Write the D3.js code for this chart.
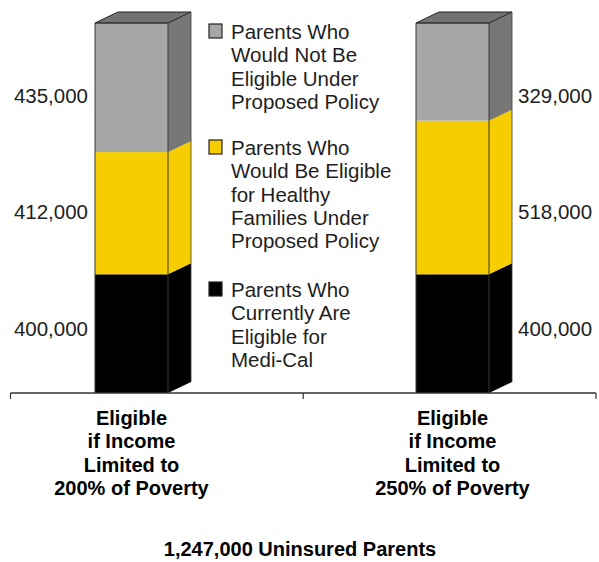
<!DOCTYPE html>
<html>
<head>
<meta charset="utf-8">
<script src="https://cdn.jsdelivr.net/npm/d3@7"></script>
<style>
  html, body { margin: 0; padding: 0; background: #fff; }
  svg { display: block; }
  text { font-family: "Liberation Sans", Arial, Helvetica, sans-serif; }
</style>
</head>
<body>
<svg id="chart" width="599" height="562"></svg>
<script>
// Uninsured parents by eligibility, for two income limits
const categories = ["200%", "250%"];
const categoryLabels = [
  ["Eligible", "if Income", "Limited to", "200% of Poverty"],
  ["Eligible", "if Income", "Limited to", "250% of Poverty"]
];
const seriesNames = ["Medi-Cal", "Healthy Families", "Not Eligible"];
const mediCal = [400000, 400000];
const healthyFamilies = [412000, 518000];
const notEligible = [435000, 329000];
const legendLabels = [
  ["Parents Who", "Would Not Be", "Eligible Under", "Proposed Policy"],
  ["Parents Who", "Would Be Eligible", "for Healthy", "Families Under", "Proposed Policy"],
  ["Parents Who", "Currently Are", "Eligible for", "Medi-Cal"]
];
const totalLabel = "1,247,000 Uninsured Parents";

const fmt = d3.format(",");

// colours per layer: front, side, top
const palette = {
  "Medi-Cal":        { front: "#000000", side: "#000000", top: "#000000" },
  "Healthy Families":{ front: "#f5cd00", side: "#f5cd00", top: "#f5cd00" },
  "Not Eligible":    { front: "#a6a6a6", side: "#777777", top: "#737373" }
};

const svg = d3.select("#chart");

const rows = categories.map((c, i) => ({
  cat: c,
  "Medi-Cal": mediCal[i],
  "Healthy Families": healthyFamilies[i],
  "Not Eligible": notEligible[i]
}));
const stacked = d3.stack().keys(seriesNames)(rows);
const maxTotal = d3.max(rows, r => seriesNames.reduce((s, k) => s + r[k], 0));

const axisY = 393;
const y = d3.scaleLinear().domain([0, maxTotal]).range([axisY, 23]);

// axis band (ticks at category boundaries) and bar centre positions
const xBand = d3.scaleBand().domain(categories).range([10.5, 596]);
const xBar = d3.scalePoint().domain(categories).range([131.5, 452.5]);
const barW = 73, depthX = 23, depthY = 11;

// bars
stacked.forEach(layer => {
  const col = palette[layer.key];
  const g = svg.append("g").attr("class", "layer");
  layer.forEach(d => {
    const x0 = xBar(d.data.cat) - barW / 2, x1 = x0 + barW;
    const yb = y(d[0]), yt = y(d[1]);
    // front face
    g.append("rect")
      .attr("x", x0).attr("y", yt)
      .attr("width", barW).attr("height", yb - yt)
      .attr("fill", col.front);
    // side face
    g.append("path")
      .attr("d", `M${x1},${yb} L${x1 + depthX},${yb - depthY} L${x1 + depthX},${yt - depthY} L${x1},${yt} Z`)
      .attr("fill", col.side);
  });
});

// outlines and top faces
categories.forEach((c, i) => {
  const x0 = xBar(c) - barW / 2, x1 = x0 + barW;
  const total = seriesNames.reduce((s, k) => s + rows[i][k], 0);
  const yt = y(total), yb = y(0);
  const topLayer = seriesNames[seriesNames.length - 1];
  svg.append("path")
    .attr("d", `M${x0},${yt} L${x0 + depthX},${yt - depthY} L${x1 + depthX},${yt - depthY} L${x1},${yt} Z`)
    .attr("fill", palette[topLayer].top)
    .attr("stroke", "#222").attr("stroke-width", 1);
  svg.append("path")
    .attr("d", `M${x0},${yb} L${x0},${yt} L${x1},${yt} L${x1},${yb}`)
    .attr("fill", "none").attr("stroke", "#3a3a30").attr("stroke-width", 1);
  svg.append("path")
    .attr("d", `M${x1 + depthX},${yt - depthY} L${x1 + depthX},${yb - depthY}`)
    .attr("fill", "none").attr("stroke", "#3a3a30").attr("stroke-width", 0.8);
  // edge between layers on the side face
  stacked.slice(0, -1).forEach(layer => {
    const yy = y(layer[i][1]);
    svg.append("line")
      .attr("x1", x1).attr("y1", yy).attr("x2", x1 + depthX).attr("y2", yy - depthY)
      .attr("stroke", "rgba(0,0,0,0.15)").attr("stroke-width", 0.6);
  });
});

// axis line with downward ticks at band edges
const tickXs = [xBand.range()[0], ...categories.slice(1).map(c => xBand(c)), xBand.range()[1]];
svg.append("line")
  .attr("x1", tickXs[0]).attr("x2", tickXs[tickXs.length - 1])
  .attr("y1", axisY).attr("y2", axisY)
  .attr("stroke", "#333").attr("stroke-width", 1.5);
svg.selectAll(".tick").data(tickXs).enter().append("line")
  .attr("x1", d => d).attr("x2", d => d)
  .attr("y1", axisY).attr("y2", axisY + 6)
  .attr("stroke", "#333").attr("stroke-width", 1.2);

// value labels, one row per layer
const labelRowY = { "Medi-Cal": 336, "Healthy Families": 219, "Not Eligible": 103 };
stacked.forEach(layer => {
  layer.forEach((d, i) => {
    const left = i === 0;
    const x0 = xBar(d.data.cat) - barW / 2;
    svg.append("text")
      .attr("x", left ? x0 - 7 : x0 + barW + depthX + 6)
      .attr("y", labelRowY[layer.key])
      .attr("text-anchor", left ? "end" : "start")
      .attr("font-size", 20.5)
      .attr("fill", "#1e1e1e")
      .text(fmt(d.data[layer.key]));
  });
});

// category labels
categories.forEach((c, i) => {
  const t = svg.append("text")
    .attr("x", xBar(c)).attr("y", 425)
    .attr("text-anchor", "middle")
    .attr("font-size", 20).attr("font-weight", "bold").attr("fill", "#000");
  categoryLabels[i].forEach((line, j) => {
    t.append("tspan").attr("x", xBar(c)).attr("dy", j === 0 ? 0 : 23.3).text(line);
  });
});

// legend (top layer first)
const legendOrder = seriesNames.slice().reverse();
const legendTop = [39, 155, 297];
legendOrder.forEach((k, i) => {
  svg.append("rect")
    .attr("x", 209).attr("y", legendTop[i] - 15)
    .attr("width", 13).attr("height", 14)
    .attr("fill", palette[k].front)
    .attr("stroke", "#222").attr("stroke-width", 1.2);
  const t = svg.append("text")
    .attr("x", 231).attr("y", legendTop[i])
    .attr("font-size", 20.5).attr("fill", "#1e1e1e");
  legendLabels[i].forEach((line, j) => {
    t.append("tspan").attr("x", 231).attr("dy", j === 0 ? 0 : 23.3).text(line);
  });
});

// total label
svg.append("text")
  .attr("x", 300).attr("y", 556)
  .attr("text-anchor", "middle")
  .attr("font-size", 20).attr("font-weight", "bold").attr("fill", "#000")
  .text(totalLabel);
</script>
</body>
</html>
